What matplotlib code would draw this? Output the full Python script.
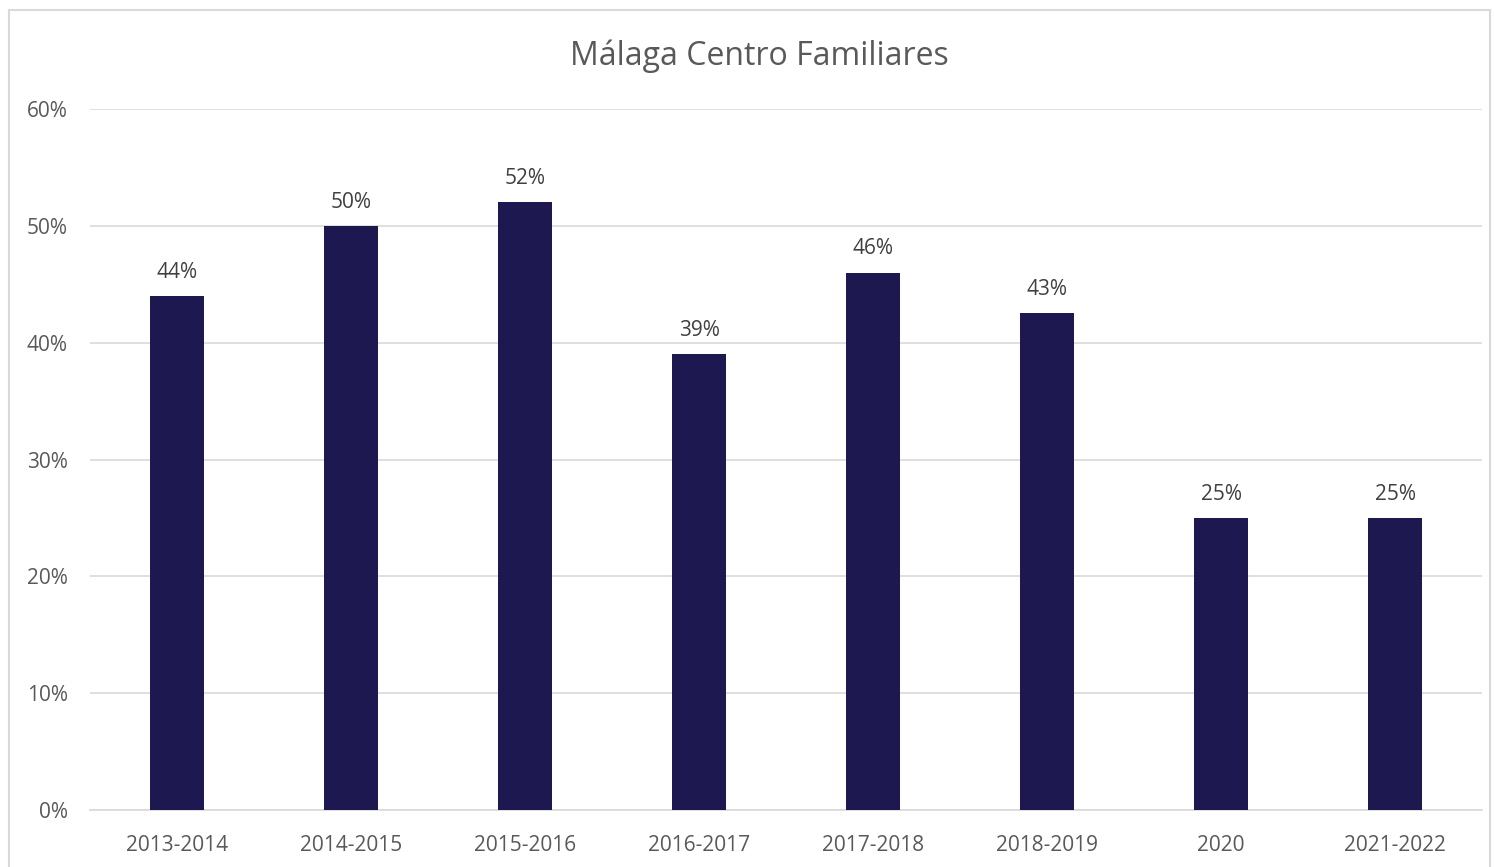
import matplotlib.pyplot as plt
from matplotlib.patches import Rectangle

categories = ["2013-2014", "2014-2015", "2015-2016", "2016-2017", "2017-2018", "2018-2019", "2020", "2021-2022"]
values = [44, 50, 52, 39, 46, 42.5, 25, 25]
labels = ["44%", "50%", "52%", "39%", "46%", "43%", "25%", "25%"]
yticks = [0, 10, 20, 30, 40, 50, 60]
ytick_labels = ["0%", "10%", "20%", "30%", "40%", "50%", "60%"]

W, H = 1494, 867
fig = plt.figure(figsize=(W / 100, H / 100), dpi=100)
plt.rcParams['font.family'] = ['Open Sans', 'DejaVu Sans']

# outer frame
fig.patches.append(Rectangle((9 / W, -0.01), (1490 - 9) / W, 1 - 10 / H + 0.01,
                             transform=fig.transFigure, fill=False,
                             edgecolor='#D9D9D9', linewidth=1.5))

ax = fig.add_axes([90 / W, 1 - 810 / H, (1482 - 90) / W, (810 - 109) / H])
x = list(range(len(categories)))
ax.bar(x, values, width=0.315, color='#1E1850', zorder=3)
for xi, v, lab in zip(x, values, labels):
    ax.annotate(lab, (xi, v), xytext=(0, 9.5), textcoords='offset points',
                ha='center', va='bottom', fontsize=15, color='#404040')

ax.set_xlim(-0.5, 7.5)
ax.set_ylim(0, 60)
ax.set_yticks(yticks)
ax.set_yticklabels(ytick_labels)
ax.set_xticks(x)
ax.set_xticklabels(categories)
ax.tick_params(axis='both', length=0, labelsize=15, labelcolor='#595959')
ax.tick_params(axis='y', pad=16)
ax.tick_params(axis='x', pad=18)
ax.grid(axis='y', color='#D9D9D9', linewidth=1.2, zorder=0)
for s in ['top', 'right', 'left']:
    ax.spines[s].set_visible(False)
ax.spines['bottom'].set_color('#D9D9D9')
ax.spines['bottom'].set_linewidth(1.2)

fig.text(759 / W, 1 - 56 / H, "Málaga Centro Familiares",
         ha='center', va='center', fontsize=23, color='#595959')

fig.savefig('out.png', dpi=100)
